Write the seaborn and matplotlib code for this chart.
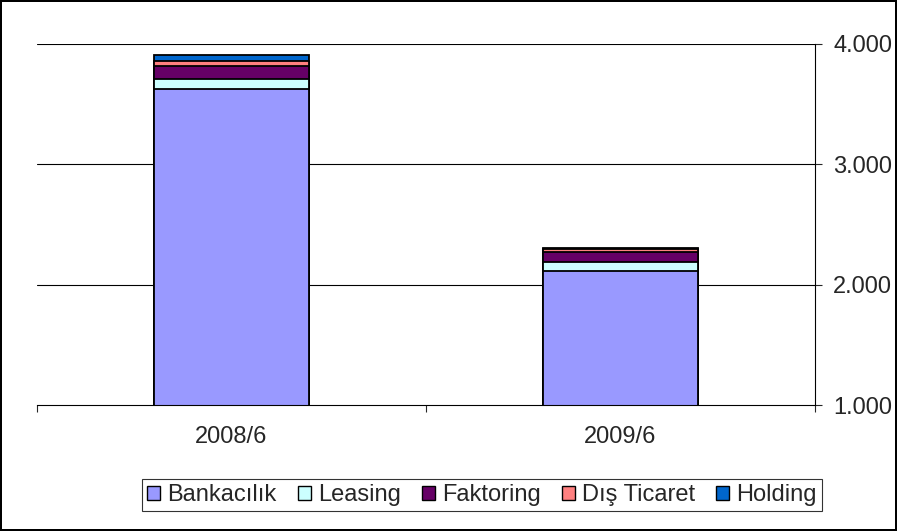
import numpy as np
import pandas as pd
import matplotlib
matplotlib.use('Agg')
import matplotlib.pyplot as plt
import seaborn as sns
from matplotlib.patches import Patch
from matplotlib.ticker import FuncFormatter

# data
donem = ['2008/6', '2009/6']
seriler = ['Bankacılık', 'Leasing', 'Faktoring', 'Dış Ticaret', 'Holding']
bankacilik = [3625, 2110]
leasing = [83, 75]
faktoring = [108, 83]
dis_ticaret = [42, 30]
holding = [50, 3]
renkler = ['#9999FF', '#CCFFFF', '#660066', '#FF8080', '#0066CC']

sns.set_style('white')
plt.rcParams['font.family'] = ['Liberation Sans', 'DejaVu Sans']

df = pd.DataFrame({'donem': donem, 'Bankacılık': bankacilik, 'Leasing': leasing,
                   'Faktoring': faktoring, 'Dış Ticaret': dis_ticaret, 'Holding': holding})
cum = df[seriler].cumsum(axis=1)

fig = plt.figure(figsize=(8.97, 5.31), dpi=100)
fig.patch.set_edgecolor('black')
fig.patch.set_linewidth(1.5)
ax = fig.add_axes([37/897, 126/531, 778/897, 361/531])

# gridlines first
for v in [2000, 3000, 4000]:
    ax.axhline(v, color='black', lw=0.8, zorder=0)

# stacked bars: draw cumulative totals from the top down
for i in range(len(seriler) - 1, -1, -1):
    sns.barplot(x=df['donem'], y=cum[seriler[i]], color=renkler[i], width=0.4,
                edgecolor='black', linewidth=1.3, saturation=1, ax=ax, zorder=2)

ax.set_xlim(-0.5, 1.5)
ax.set_ylim(1000, 4000)
ax.set_xlabel('')
ax.set_ylabel('')

ax.yaxis.tick_right()
ax.set_yticks([1000, 2000, 3000, 4000])
ax.yaxis.set_major_formatter(FuncFormatter(lambda v, p: f'{int(v):,}'.replace(',', '.')))
ax.tick_params(axis='y', direction='out', length=5, width=0.8, pad=8, labelsize=17, right=True)

ax.set_xticks([0, 1])
ax.set_xticklabels(donem)
ax.set_xticks([-0.5, 0.5, 1.5], minor=True)
ax.tick_params(axis='x', which='major', length=0, pad=15, labelsize=17)
ax.tick_params(axis='x', which='minor', length=5, width=0.8, direction='out', bottom=True)

for s in ['top', 'left']:
    ax.spines[s].set_visible(False)
ax.spines['right'].set_color('black')
ax.spines['bottom'].set_color('black')
ax.spines['right'].set_linewidth(0.8)
ax.spines['bottom'].set_linewidth(0.8)

handles = [Patch(facecolor=renkler[i], edgecolor='black', label=seriler[i]) for i in range(len(seriler))]
leg = fig.legend(handles=handles, loc='center', bbox_to_anchor=(482/897, 1 - 495/531), ncol=5,
                 frameon=True, fancybox=False, edgecolor='black', fontsize=17,
                 handlelength=0.55, handleheight=0.55, handletextpad=0.3, columnspacing=0.9,
                 borderpad=0.2, borderaxespad=0)
leg.get_frame().set_linewidth(0.8)

fig.savefig('out.png', dpi=100)
